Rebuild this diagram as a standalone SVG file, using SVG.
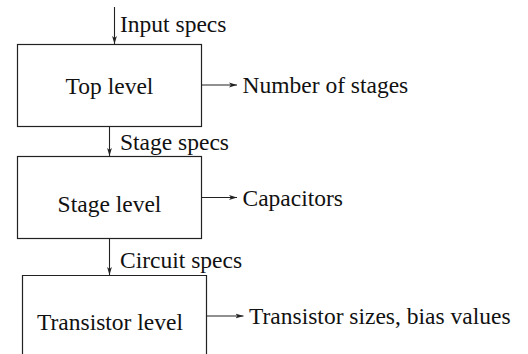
<svg xmlns="http://www.w3.org/2000/svg" width="528" height="354" viewBox="0 0 528 354">
<defs>
<style>
svg g text.t{font-family:'Liberation Serif',serif !important;font-size:23.5px;fill:#111}
.box{fill:none;stroke:#222;stroke-width:1.2}
.c{fill:none;stroke:#222;stroke-width:1.1}
.m{text-anchor:middle}
</style>
<marker id="ah" viewBox="0 0 8 6" refX="8" refY="3" markerWidth="8" markerHeight="6" markerUnits="userSpaceOnUse" orient="auto">
<path d="M0,0.6 L8,3 L0,5.4 L2,3 Z" fill="#222"/>
</marker>
</defs>
<rect width="528" height="354" fill="#fff"/>
<g id="top-level">
<rect class="box" x="17.5" y="44.5" width="184" height="82"/>
<text class="t m" x="109.5" y="94">Top level</text>
</g>
<g id="stage-level">
<rect class="box" x="17.5" y="156.5" width="184" height="82"/>
<text class="t m" x="109.5" y="212">Stage level</text>
</g>
<g id="transistor-level">
<path class="box" d="M22.5,356 V275.5 H206.5 V356"/>
<text class="t m" x="110" y="330">Transistor level</text>
</g>
<g id="connectors">
<line class="c" x1="114.5" y1="7" x2="114.5" y2="44" marker-end="url(#ah)"/>
<line class="c" x1="109.5" y1="127" x2="109.5" y2="156" marker-end="url(#ah)"/>
<line class="c" x1="109.5" y1="239" x2="109.5" y2="275" marker-end="url(#ah)"/>
<line class="c" x1="201.5" y1="85" x2="237" y2="85" marker-end="url(#ah)"/>
<line class="c" x1="201.5" y1="197.5" x2="237" y2="197.5" marker-end="url(#ah)"/>
<line class="c" x1="206.5" y1="316" x2="243.5" y2="316" marker-end="url(#ah)"/>
</g>
<g id="labels">
<text class="t" x="120" y="31.5">Input specs</text>
<text class="t" x="120" y="150">Stage specs</text>
<text class="t" x="120" y="267.5">Circuit specs</text>
<text class="t" x="242.5" y="93.3">Number of stages</text>
<text class="t" x="242.5" y="205.7">Capacitors</text>
<text class="t" x="249" y="324">Transistor sizes, bias values</text>
</g>
</svg>
